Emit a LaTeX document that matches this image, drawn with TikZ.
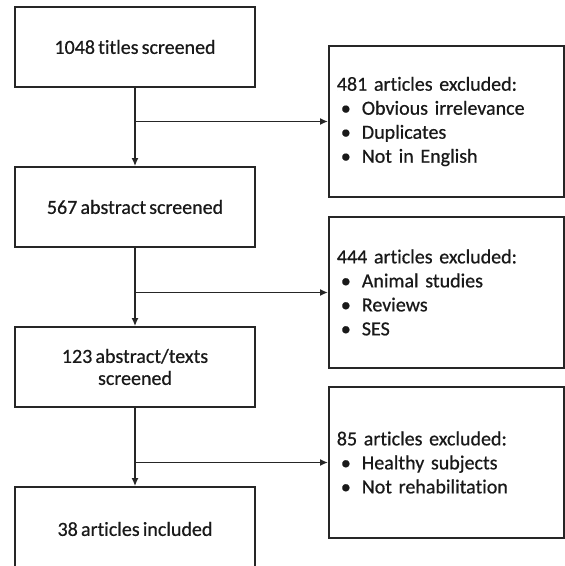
\documentclass[tikz,border=0pt]{standalone}
\usepackage{fontspec}
\setmainfont{Carlito}[Ligatures=NoCommon,FakeBold=0.6,WordSpace=0.7]
\usetikzlibrary{arrows.meta}
\newcommand{\itm}[1]{\makebox[12.5pt][l]{\hspace{2pt}\textbullet}#1}
\begin{document}
\begin{tikzpicture}[x=0.5pt,y=-0.5pt,font=\fontsize{10}{12}\selectfont,text=black!90,
  stage/.style={draw=black!85,line width=0.85pt,minimum width=120pt,minimum height=40pt,align=center,inner sep=0pt},
  excl/.style={draw=black!85,line width=0.85pt,text width=109.5pt,inner xsep=4pt,inner ysep=0pt,minimum height=75.5pt,align=left,anchor=west},
  flow/.style={draw=black!85,line width=0.8pt,-{Latex[length=4pt,width=3.5pt]}}]
  \useasboundingbox (0,0) rectangle (564,566);
  \node[stage] (s1) at (135,47) {1048 titles screened};
  \node[stage] (s2) at (135,207) {567 abstract screened};
  \node[stage] (s3) at (135,367) {123 abstract/texts\\[-1pt]screened};
  \node[stage,minimum height=42pt] (s4) at (135,529) {38 articles included};
  \node[excl] (x1) at (328,121.5) {481 articles excluded:\\\itm{Obvious irrelevance}\\\itm{Duplicates}\\\itm{Not in English}};
  \node[excl] (x2) at (328,292.5) {444 articles excluded:\\\itm{Animal studies}\\\itm{Reviews}\\\itm{SES}};
  \node[excl] (x3) at (328,462.5) {85 articles excluded:\\\itm{Healthy subjects}\\\itm{Not rehabilitation}};
  \draw[flow] (s1) -- (s2);
  \draw[flow] (s2) -- (s3);
  \draw[flow] (s3) -- (s4);
  \draw[flow] (s1.south |- x1.west) -- (x1.west);
  \draw[flow] (s2.south |- x2.west) -- (x2.west);
  \draw[flow] (s3.south |- x3.west) -- (x3.west);
\end{tikzpicture}
\end{document}
